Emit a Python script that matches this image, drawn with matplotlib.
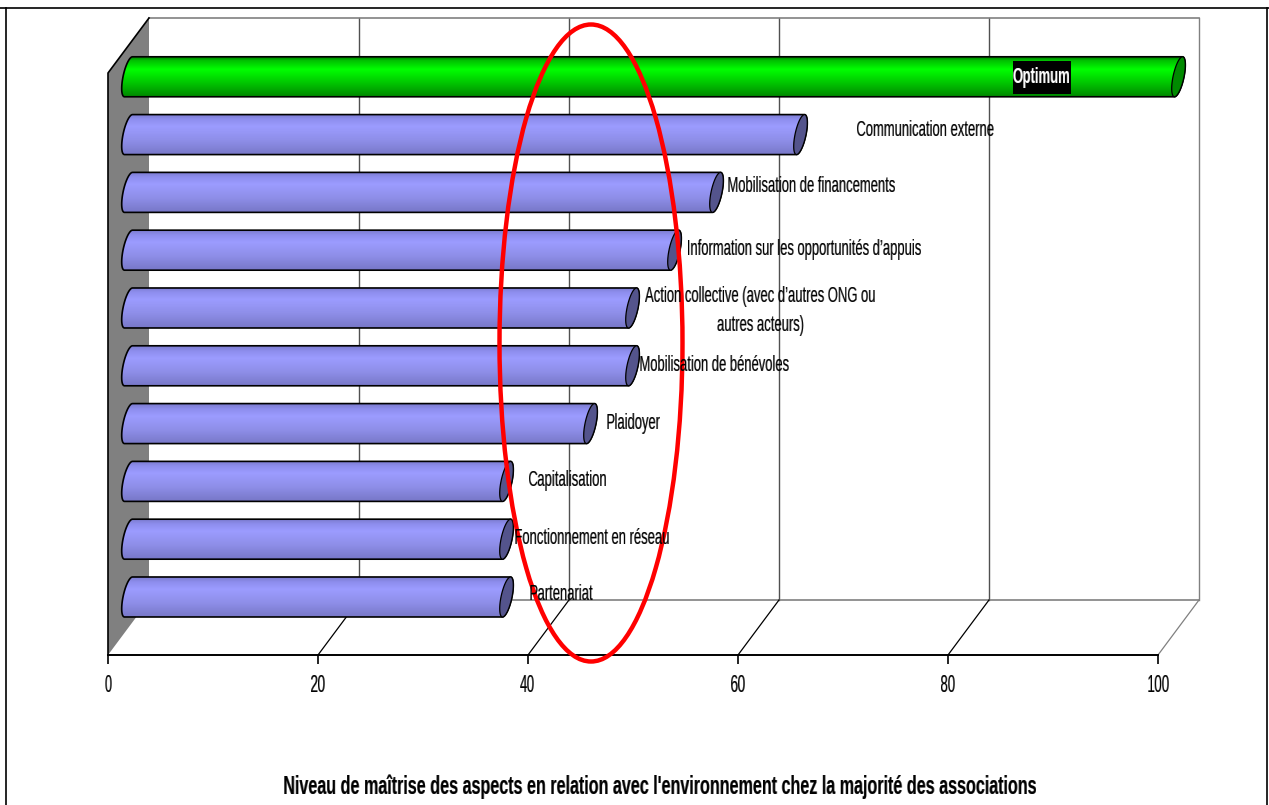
#!/usr/bin/env python3
"""Niveau de maitrise - fake 3D horizontal cylinder bars."""
import numpy as np
import matplotlib
matplotlib.use('Agg')
import matplotlib.pyplot as plt
from matplotlib.colors import LinearSegmentedColormap
from matplotlib.patches import Ellipse, PathPatch, Polygon, Rectangle
from matplotlib.path import Path
from matplotlib.transforms import Affine2D

W, H = 1269, 805

categories = ['Partenariat', 'Fonctionnement en réseau', 'Capitalisation', 'Plaidoyer',
              'Mobilisation de bénévoles', 'Action collective (avec d\u2019autres ONG ou\nautres acteurs)',
              'Information sur les opportunités d\u2019appuis', 'Mobilisation de financements',
              'Communication externe', 'Optimum']
values = [36, 36, 36, 44, 48, 48, 52, 56, 64, 100]
xticks = [0, 20, 40, 60, 80, 100]
title = "Niveau de maîtrise des aspects en relation avec l'environnement chez la majorité des associations"

# label centres in pixels, same order as categories
label_px = [(561, 594), (592, 538), (568, 480), (633, 423), (714, 365), (761, 311),
            (804, 249), (812, 186), (926, 131), (1042, 78)]

plt.rcParams['font.family'] = ['Liberation Sans', 'DejaVu Sans']

PX_X = 10.5     # pixels per x unit
PX_Y = 57.8     # pixels per category
DEPTH_X, DEPTH_Y = 41, 55
BAR_H = 20.0 / PX_Y


def squeeze(k):
    # the reference text is Arial Narrow like, no such font here: squeeze the drawn text
    def _filter(img, dpi):
        h, w = img.shape[:2]
        nw = max(1, int(round(w * k)))
        edges = np.linspace(0, w, nw + 1)
        cum = np.concatenate([np.zeros((h, 1)), np.cumsum(img[..., 3], axis=1)], axis=1)
        at = np.stack([np.interp(edges, np.arange(w + 1), row) for row in cum])
        alpha = np.diff(at, axis=1) / (w / nw)
        out = np.zeros((h, nw, 4))
        peak = np.unravel_index(np.argmax(img[..., 3]), img.shape[:2])
        out[..., :3] = img[peak][:3]
        # squeezing thins the strokes, gamma brings the weight back
        out[..., 3] = np.clip(alpha, 0, 1) ** 0.72
        return out, (w - nw) // 2, 0
    return _filter


fig = plt.figure(figsize=(W / 100, H / 100), dpi=100)
ax = fig.add_axes([108 / W, 1 - 655 / H, 1050 / W, 582 / H])
ax.set_xlim(0, 100)
ax.set_ylim(-0.528, -0.528 + 582 / PX_Y)
ax.set_facecolor('none')
for s in ax.spines.values():
    s.set_visible(False)
ax.set_yticks([])
ax.set_xticks(xticks)
ax.set_xticklabels([str(t) for t in xticks], fontsize=17)
ax.tick_params(axis='x', length=6.5, width=1.2, color='black', pad=8)
for lab in ax.get_xticklabels():
    lab.set_agg_filter(squeeze(0.57))

ymin, ymax = ax.get_ylim()
back = ax.transData + Affine2D().translate(DEPTH_X, DEPTH_Y)
mid = ax.transData + Affine2D().translate(20.5, 27.5)
wall_x, wall_y = DEPTH_X / PX_X, DEPTH_Y / PX_Y

# side wall
ax.add_patch(Polygon([(0, ymin), (0, ymax), (wall_x, ymax + wall_y), (wall_x, ymin + wall_y)],
                     closed=True, facecolor='#808080', edgecolor='none', clip_on=False, zorder=1))
ax.plot([wall_x, 0, 0], [ymax + wall_y, ymax, ymin], color='black', lw=1.2, clip_on=False, zorder=2)
# back wall grid
for t in xticks[1:]:
    col = '#808080' if t == 100 else '#505050'
    ax.plot([t, t], [ymin, ymax], transform=back, color=col, lw=1.0, clip_on=False, zorder=1)
ax.plot([0, 100], [ymax, ymax], transform=back, color='#808080', lw=1.2, clip_on=False, zorder=1)
ax.plot([0, 100], [ymin, ymin], transform=back, color='#808080', lw=1.2, clip_on=False, zorder=1)
# floor
for t in xticks[1:]:
    col = '#808080' if t == 100 else 'black'
    ax.plot([t, t + wall_x], [ymin, ymin + wall_y], color=col, lw=0.9, clip_on=False, zorder=1)
ax.plot([0, 100], [ymin, ymin], color='black', lw=1.4, clip_on=False, zorder=2)

blue = LinearSegmentedColormap.from_list('b', [(0, '#7c7cd0'), (0.12, '#8e8eee'), (0.3, '#9c9cff'),
                                               (0.65, '#8e8ee8'), (1, '#7878c8')])
green = LinearSegmentedColormap.from_list('g', [(0, '#007000'), (0.1, '#00c000'), (0.32, '#00ff00'),
                                                (0.6, '#00d000'), (1, '#008800')])
grad = np.linspace(0, 1, 64).reshape(-1, 1)
tt = np.linspace(np.pi / 2, 3 * np.pi / 2, 40)


def cap_xy(cx, cy, t):
    # tilted ellipse for the cylinder ends
    return cx + (5.5 * np.cos(t) + 4 * np.sin(t)) / PX_X, cy + BAR_H * np.sin(t)


for i, v in enumerate(values):
    lx, ly = cap_xy(0, i, tt)
    rx, ry = cap_xy(v, i, tt + np.pi)
    body = Path(np.vstack([np.column_stack([lx, ly]), np.column_stack([rx, ry]), [[lx[0], ly[0]]]]),
                closed=True)
    is_opt = categories[i] == 'Optimum'
    im = ax.imshow(grad, cmap=green if is_opt else blue, aspect='auto', zorder=3,
                   interpolation='bilinear', extent=[-1, v + 1, i - BAR_H, i + BAR_H], origin='upper')
    im.set_transform(mid)
    outline = PathPatch(body, transform=mid, facecolor='none', edgecolor='black', lw=1.2, zorder=4,
                        clip_on=False)
    ax.add_patch(outline)
    im.set_clip_path(outline)
    im.set_clip_box(fig.bbox)
    tc = np.linspace(0, 2 * np.pi, 60)
    cx, cy = cap_xy(v, i, tc)
    ax.add_patch(Polygon(np.column_stack([cx, cy]), closed=True, transform=mid, clip_on=False, zorder=5,
                         facecolor='#008a00' if is_opt else '#54548c', edgecolor='black', lw=0.9))
ax.set_xlim(0, 100)
ax.set_ylim(ymin, ymax)

# overlay in picture pixels: frame, labels, ellipse, title
ov = fig.add_axes([0, 0, 1, 1], zorder=5)
ov.set_xlim(0, W)
ov.set_ylim(H, 0)
ov.axis('off')
ov.plot([0, W], [8.5, 8.5], color='black', lw=1.2)
ov.plot([6, 6], [8.5, H], color='black', lw=1.2)
ov.plot([1267, 1267], [8.5, H], color='black', lw=1.2)

for name, (x, y) in zip(categories, label_px):
    if name == 'Optimum':
        ov.add_patch(Rectangle((1013, 61), 58, 33, facecolor='black', edgecolor='none'))
        ov.text(x, y, name, ha='center', va='center', color='white', fontsize=16, fontweight='bold',
                agg_filter=squeeze(0.59))
    else:
        ov.text(x, y, name, ha='center', va='center', color='black', fontsize=16, linespacing=1.45,
                agg_filter=squeeze(0.585))

ov.add_patch(Ellipse((591, 343), 183, 637, facecolor='none', edgecolor='#ff0000', lw=3.2))
ov.text(660, 787, title, ha='center', va='center', fontsize=18, fontweight='bold',
        agg_filter=squeeze(0.644))

fig.savefig('out.png', dpi=100)
